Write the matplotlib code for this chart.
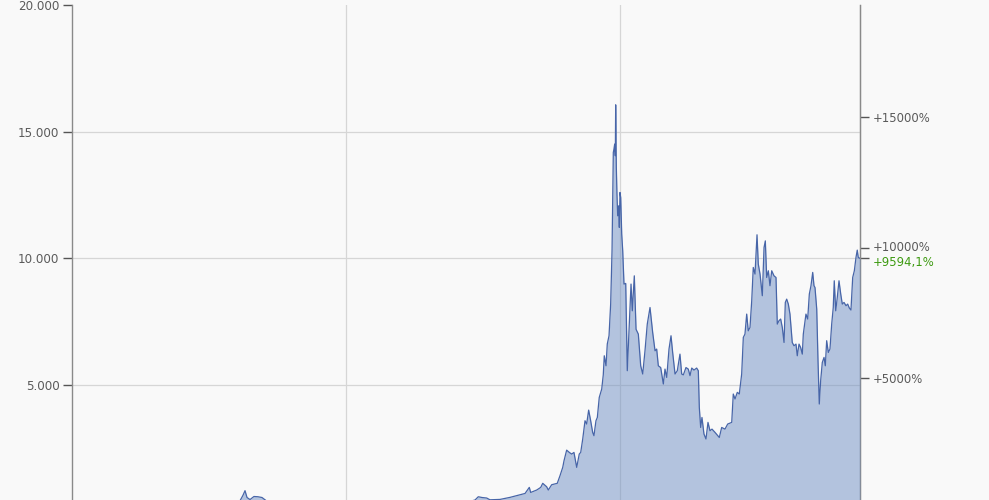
import matplotlib
matplotlib.use("Agg")
import matplotlib.pyplot as plt
import matplotlib.transforms as mtransforms
from matplotlib.ticker import FuncFormatter, FixedLocator

# ---- data (decimal year, price in EUR) ----
years = [
    2012.000, 2012.197, 2012.416, 2012.580, 2012.690, 2012.854, 2013.019, 2013.128,
    2013.238, 2013.271, 2013.314, 2013.402, 2013.512, 2013.621, 2013.709, 2013.785,
    2013.840, 2013.873, 2013.895, 2013.917, 2013.950, 2013.993, 2014.037, 2014.081,
    2014.125, 2014.169, 2014.256, 2014.333, 2014.388, 2014.497, 2014.607, 2014.716,
    2014.826, 2014.935, 2014.990, 2015.067, 2015.154, 2015.264, 2015.373, 2015.483,
    2015.593, 2015.702, 2015.812, 2015.866, 2015.921, 2016.031, 2016.140, 2016.250,
    2016.359, 2016.414, 2016.450, 2016.491, 2016.542, 2016.578, 2016.688, 2016.797,
    2016.907, 2016.962, 2017.009, 2017.024, 2017.090, 2017.134, 2017.156, 2017.199,
    2017.217, 2017.254, 2017.315, 2017.345, 2017.375, 2017.389, 2017.418, 2017.447,
    2017.473, 2017.498, 2017.528, 2017.556, 2017.572, 2017.594, 2017.619, 2017.637,
    2017.659, 2017.681, 2017.703, 2017.717, 2017.739, 2017.754, 2017.775, 2017.802,
    2017.819, 2017.830, 2017.849, 2017.863, 2017.882, 2017.900, 2017.915, 2017.929,
    2017.936, 2017.944, 2017.951, 2017.955, 2017.962, 2017.969, 2017.977, 2017.988,
    2017.995, 2018.002, 2018.010, 2018.021, 2018.032, 2018.046, 2018.065, 2018.082,
    2018.123, 2018.137, 2018.159, 2018.178, 2018.203, 2018.229, 2018.251, 2018.276,
    2018.301, 2018.331, 2018.360, 2018.386, 2018.404, 2018.422, 2018.448, 2018.477,
    2018.495, 2018.514, 2018.539, 2018.561, 2018.579, 2018.605, 2018.630, 2018.659,
    2018.678, 2018.696, 2018.725, 2018.750, 2018.769, 2018.788, 2018.813, 2018.842,
    2018.860, 2018.871, 2018.886, 2018.900, 2018.922, 2018.944, 2018.966, 2018.988,
    2019.010, 2019.043, 2019.090, 2019.116, 2019.152, 2019.182, 2019.226, 2019.243,
    2019.262, 2019.287, 2019.309, 2019.335, 2019.353, 2019.371, 2019.390, 2019.407,
    2019.426, 2019.445, 2019.462, 2019.481, 2019.503, 2019.517, 2019.536, 2019.561,
    2019.580, 2019.594, 2019.609, 2019.627, 2019.645, 2019.664, 2019.689, 2019.711,
    2019.725, 2019.744, 2019.762, 2019.780, 2019.799, 2019.813, 2019.828, 2019.846,
    2019.864, 2019.889, 2019.908, 2019.930, 2019.944, 2019.963, 2019.981, 2019.999,
    2020.010, 2020.039, 2020.058, 2020.076, 2020.094, 2020.113, 2020.127, 2020.138,
    2020.157, 2020.171, 2020.185, 2020.200, 2020.218, 2020.237, 2020.251, 2020.266,
    2020.284, 2020.302, 2020.321, 2020.338, 2020.349, 2020.365, 2020.382, 2020.401,
    2020.420, 2020.437, 2020.456, 2020.478, 2020.496, 2020.514, 2020.532, 2020.551,
    2020.569, 2020.587, 2020.601, 2020.612, 2020.631,
]
prices = [
    5, 4.5, 5, 9, 10, 9, 11, 25,
    70, 110, 75, 90, 70, 80, 100, 150,
    430, 650, 830, 560, 480, 600, 590, 560,
    440, 400, 330, 320, 400, 420, 380, 300,
    280, 260, 230, 180, 200, 190, 200, 230,
    240, 210, 260, 350, 380, 390, 370, 380,
    410, 460, 590, 560, 540, 470, 485, 565,
    670, 720, 960, 760, 855, 960, 1120, 985,
    855, 1065, 1120, 1420, 1750, 2010, 2430, 2340,
    2275, 2340, 1750, 2275, 2340, 2870, 3590, 3460,
    4010, 3590, 3130, 3000, 3590, 3720, 4510, 4840,
    5400, 6155, 5760, 6620, 6945, 8200, 10300, 14180,
    14310, 14510, 14050, 16060, 13590, 12540, 11680, 12075,
    11220, 12600, 12400, 10960, 10300, 8985, 9010, 5565,
    8985, 7930, 9310, 7200, 7010, 5760, 5435, 6350,
    7405, 8060, 7080, 6350, 6420, 5760, 5690, 5040,
    5630, 5300, 6420, 6945, 6285, 5435, 5565, 6220,
    5435, 5400, 5690, 5630, 5370, 5670, 5590, 5670,
    5565, 4115, 3325, 3720, 3065, 2870, 3525, 3195,
    3260, 3130, 2930, 3325, 3260, 3460, 3525, 4645,
    4450, 4710, 4645, 5435, 6880, 7010, 7800, 7140,
    7270, 8325, 9640, 9380, 10930, 9775, 9380, 8525,
    10430, 10690, 9245, 9510, 8920, 9510, 9310, 9245,
    7405, 7540, 7605, 7270, 6680, 8260, 8390, 8195,
    7800, 6680, 6550, 6615, 6155, 6615, 6480, 6220,
    7010, 7800, 7605, 8590, 8920, 9445, 8920, 8850,
    8000, 5960, 4250, 5170, 5890, 6090, 5760, 6750,
    6285, 6420, 7405, 8060, 9115, 7930, 8455, 9115,
    8590, 8195, 8260, 8130, 8195, 8040, 7960, 9245,
    9510, 10035, 10325, 10035, 10000,
]
left_ticks = [5000, 10000, 15000, 20000]
pct_ticks = [5000, 10000, 15000]
last_pct = 9594.1
year_grid = [2015, 2018]

base = prices[-1] / (1 + last_pct / 100.0)

def to_pct(p):
    return (p / base - 1) * 100.0

def to_price(q):
    return base * (1 + q / 100.0)

BG = "#f9f9f9"
TXT = "#5a5a5a"
SPINE = "#8a8a8a"
GRID = "#d6d6d6"

fig = plt.figure(figsize=(9.89, 5.0), dpi=100, facecolor=BG)
W, H = 989, 500
x0, x1 = 72, 860
ytop, yzero = 5, 511.7
ax = fig.add_axes([x0 / W, 1 - yzero / H, (x1 - x0) / W, (yzero - ytop) / H])
ax.set_facecolor(BG)

ax.fill_between(years, prices, 0, color="#6f8fc4", alpha=0.5, linewidth=0, zorder=3)
ax.plot(years, prices, color="#4765a8", linewidth=0.9, zorder=4)

ax.set_xlim(2012.0, 2020.631)
ax.set_ylim(0, 20000)

ax.set_xticks(year_grid)
ax.tick_params(axis="x", length=0, labelbottom=False)
ax.xaxis.grid(True, color=GRID, linewidth=0.9, zorder=1)

ax.yaxis.set_major_locator(FixedLocator(left_ticks))
ax.yaxis.set_major_formatter(FuncFormatter(lambda v, p: f"{v:,.0f}".replace(",", ".")))
ax.tick_params(axis="y", direction="out", length=6.5, width=1, color="#555555",
               labelsize=8.6, labelcolor=TXT, pad=2.5)
ax.yaxis.grid(True, color=GRID, linewidth=0.9, zorder=1)
for gl, v in zip(ax.get_ygridlines(), left_ticks):
    if v >= 20000:
        gl.set_visible(False)
ax.set_axisbelow(True)

for s in ["top", "bottom"]:
    ax.spines[s].set_visible(False)
ax.spines["left"].set_color(SPINE)
ax.spines["right"].set_color(SPINE)
ax.spines["left"].set_linewidth(1)
ax.spines["right"].set_linewidth(1)

sec = ax.secondary_yaxis("right", functions=(to_pct, to_price))
sec_ticks = pct_ticks + [last_pct]
sec.yaxis.set_major_locator(FixedLocator(sec_ticks))

def pct_fmt(v, p):
    if abs(v - last_pct) < 1e-6:
        return "+" + f"{v:.1f}".replace(".", ",") + "%"
    return f"+{v:.0f}%"

sec.yaxis.set_major_formatter(FuncFormatter(pct_fmt))
sec.tick_params(axis="y", direction="out", length=6.5, width=1, color="#555555",
                labelsize=8.4, labelcolor=TXT, pad=2.5)
sec.spines["right"].set_color(SPINE)
fig.canvas.draw()

up = mtransforms.ScaledTranslation(0, 1.6 / 72, fig.dpi_scale_trans)
down = mtransforms.ScaledTranslation(0, -1.6 / 72, fig.dpi_scale_trans)
for tick in sec.yaxis.get_major_ticks():
    lbl = tick.label2
    txt = lbl.get_text()
    if txt.startswith("+9594"):
        lbl.set_color("#3d9a10")
        lbl.set_transform(lbl.get_transform() + down)
    elif txt == "+10000%":
        lbl.set_transform(lbl.get_transform() + up)

fig.savefig("out.png", dpi=100, facecolor=BG)
